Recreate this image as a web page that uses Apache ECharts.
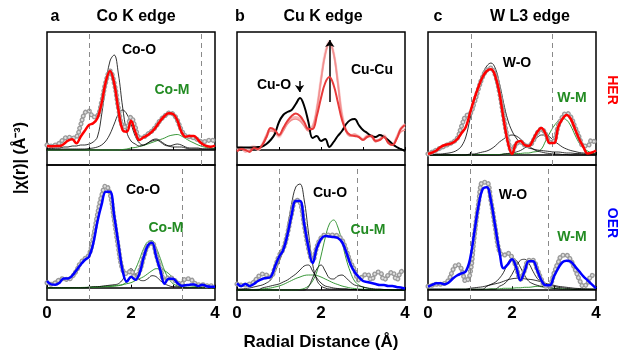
<!DOCTYPE html>
<html>
<head>
<meta charset="utf-8">
<script src="https://cdn.jsdelivr.net/npm/echarts@6/dist/echarts.min.js"></script>
<style>html,body{margin:0;padding:0;background:#fff}#chart{width:621px;height:352px}</style>
</head>
<body>
<div id="chart"></div>
<script>
// radial distance grid (Å)
var R = [0,0.1,0.2,0.3,0.4,0.5,0.6,0.7,0.8,0.9,1.0,1.1,1.2,1.3,1.4,1.5,1.6,1.7,1.8,1.9,2.0,
         2.1,2.2,2.3,2.4,2.5,2.6,2.7,2.8,2.9,3.0,3.1,3.2,3.3,3.4,3.5,3.6,3.7,3.8,3.9,4.0];

// a - Co K edge, HER
var coHerData = [0.5,0.4,0.5,0.7,1.1,1.3,1.2,1.3,2.5,3.7,3.9,3.3,3.4,4.8,6.8,7.9,6.7,4.2,2.4,2.3,3.3,2.3,1.2,1.3,1.6,1.9,2.4,3.0,3.4,3.7,3.6,3.0,2.0,1.4,1.3,1.2,1.0,0.8,0.9,1.0,0.9];
var coHerFit = [0.4,0.37,0.4,0.4,0.6,0.93,1.07,0.67,1.33,1.93,2.5,2.67,3.17,4.67,6.83,7.9,6.67,4.0,2.0,1.83,2.93,1.83,1.0,1.27,1.5,1.83,2.33,2.93,3.4,3.67,3.6,3.0,1.83,1.33,1.4,1.4,1.0,0.6,0.4,0.33,0.43];
var coHerO = [0.15,0.15,0.2,0.2,0.3,0.3,0.4,0.4,0.5,0.5,0.6,0.8,1.3,3.5,6.5,8.9,9.5,7.6,4.3,1.8,0.9,0.6,0.4,0.5,0.7,0.9,1.0,0.8,0.5,0.4,0.5,0.6,0.5,0.3,0.2,0.2,0.2,0.1,0.1,0.1,0.1];
var coHerO2 = [0.1,0.1,0.1,0.1,0.1,0.1,0.1,0.1,0.1,0.1,0.15,0.2,0.3,0.5,0.9,1.6,2.6,3.6,4.0,3.6,2.6,1.4,0.7,0.5,0.7,1.0,1.1,0.9,0.6,0.4,0.3,0.3,0.3,0.2,0.1,0.1,0.1,0.1,0.1,0.1,0.1];
var coHerM = [0,0,0,0,0,0,0,0,0,0,0,0,0,0,0,0,0,0,0.05,0.1,0.2,0.25,0.35,0.45,0.6,0.75,0.9,1.05,1.2,1.4,1.5,1.55,1.4,1.15,0.9,0.7,0.5,0.35,0.25,0.2,0.15];

// b - Cu K edge, HER series
var cuBefore = [0.25,0.25,0.25,0.25,0.25,0.3,0.35,0.6,1.0,1.6,2.8,3.5,3.8,4.0,4.6,5.2,4.4,2.8,1.2,1.4,0.9,1.1,0.3,0.8,1.4,1.9,2.6,3.0,3.1,2.5,2.0,1.7,1.4,1.3,1.5,1.3,1.0,0.6,0.3,0.1,-0.1];
var cuHer1 = [-0.15,0.1,0.0,-0.2,0.2,0.1,0.5,1.3,2.2,2.0,1.5,2.2,2.9,3.4,3.65,3.4,2.8,2.1,2.1,3.4,5.2,6.7,7.3,6.5,4.8,3.0,1.9,1.5,1.4,1.3,1.0,1.3,1.4,0.9,1.0,1.3,0.7,0.5,1.1,2.1,2.5];
var cuHer2 = [0.1,0.3,-0.1,0.2,0.4,0.1,0.6,1.4,2.0,1.8,1.3,2.0,2.7,3.1,3.2,3.0,2.5,2.0,2.3,4.2,7.2,9.8,10.9,9.8,6.9,3.6,2.0,1.5,1.5,1.4,1.1,1.5,1.4,0.9,1.1,1.5,0.9,0.6,1.2,2.0,2.3];
var cuHer3 = [0.0,0.2,-0.2,0.1,0.3,0.0,0.5,1.5,2.1,1.7,1.4,2.1,2.8,3.2,3.3,3.1,2.6,2.1,2.4,4.0,6.9,9.5,10.6,9.6,6.8,3.5,1.9,1.4,1.6,1.3,1.0,1.4,1.5,1.0,1.0,1.4,0.8,0.5,1.3,2.2,2.6];
var cuHer4 = [-0.1,0.2,0.0,-0.1,0.3,0.2,0.4,1.2,1.9,1.9,1.4,1.9,2.6,3.0,3.1,2.9,2.4,1.9,2.2,4.1,7.0,9.6,10.7,9.7,6.7,3.4,1.8,1.4,1.5,1.3,1.1,1.4,1.3,0.8,1.1,1.4,0.8,0.5,1.1,1.8,2.0];

// c - W L3 edge, HER
var wHerData = [0.1,0.3,0.5,0.7,0.9,1.1,1.3,1.7,2.9,3.9,4.1,5.2,6.6,7.8,8.5,8.7,8.0,6.3,3.8,1.6,0.4,1.1,1.3,1.0,0.9,1.4,2.2,2.6,2.1,1.3,1.4,2.9,3.8,4.2,3.8,2.8,1.8,0.9,0.9,1.5,1.1];
var wHerFit = [0.1,0.25,0.45,0.8,1.0,1.1,1.25,1.6,2.2,2.8,4.2,5.6,6.8,7.8,8.4,8.57,7.9,6.2,3.6,1.3,0.1,1.2,1.4,1.0,0.9,1.5,2.3,2.7,2.1,1.2,1.2,2.8,3.6,4.0,3.6,2.6,1.6,0.8,0.15,0.25,0.45];
var wHerO = [0.05,0.05,0.1,0.1,0.15,0.2,0.3,0.5,0.9,1.8,3.6,5.3,6.9,8.1,8.9,9.2,8.7,7.2,5.2,3.5,2.4,1.7,1.2,0.9,0.7,0.6,0.5,0.45,0.4,0.35,0.3,0.3,0.25,0.2,0.2,0.15,0.15,0.1,0.1,0.1,0.1];
var wHerO2 = [0,0,0,0,0,0,0,0,0,0,0.1,0.1,0.2,0.3,0.4,0.6,0.9,1.3,1.6,1.9,2.0,1.9,1.6,1.2,0.9,0.6,0.4,0.3,0.2,0.15,0.1,0.1,0.05,0.05,0,0,0,0,0,0,0];
var wHerO3 = [0,0,0,0,0,0,0,0,0,0,0,0,0,0,0,0,0,0,0.1,0.15,0.2,0.3,0.45,0.7,1.0,1.4,1.75,2.0,2.0,1.8,1.4,1.1,0.8,0.6,0.45,0.35,0.25,0.2,0.15,0.1,0.1];
var wHerM = [0,0,0,0,0,0,0,0,0,0,0.02,0.03,0.05,0.05,0.05,0.05,0.05,0.05,0.1,0.1,0.1,0.15,0.15,0.2,0.2,0.3,0.35,0.6,1.4,2.2,2.9,3.4,3.65,3.5,2.9,2.0,1.2,0.7,0.4,0.2,0.1];

// a - Co K edge, OER
var coOerData = [0.5,0.35,0.5,0.8,0.9,0.8,1.1,1.7,2.5,2.9,3.3,5.0,7.3,9.2,10.2,9.4,6.8,4.0,1.8,1.4,1.7,0.9,1.6,3.0,4.2,4.5,3.3,1.9,0.7,1.0,0.9,0.5,0.4,0.9,0.9,0.5,0.3,0.3,0.2,0.2,0.2];
var coOerFit = [0.67,0.33,0.3,0.5,0.93,0.93,1.2,1.75,2.3,2.77,3.1,4.4,6.6,8.3,9.6,9.6,7.2,4.4,1.7,0.6,1.1,0.8,1.4,3.0,4.2,4.5,3.1,1.7,0.4,0.9,0.9,0.5,0.2,0.25,0.3,0.33,0.17,0.3,0.15,0.1,0.1];
var coOerO = [0,0,0,0,0,0,0,0,0,0,0.05,0.1,0.1,0.15,0.2,0.25,0.3,0.4,0.8,1.5,1.9,1.4,0.8,0.7,0.9,1.2,1.1,0.7,0.4,0.2,0.1,0.1,0.05,0,0,0,0,0,0,0,0];
var coOerM1 = [0,0,0,0,0,0,0,0,0,0,0.02,0.03,0.05,0.08,0.1,0.12,0.15,0.2,0.3,0.6,1.0,1.8,2.8,3.9,4.6,4.7,4.0,2.9,1.7,0.9,0.4,0.2,0.1,0.05,0.03,0.02,0,0,0,0,0];
var coOerM2 = [0,0,0,0,0,0,0,0,0.02,0.03,0.05,0.07,0.1,0.12,0.15,0.18,0.2,0.25,0.3,0.4,0.5,0.7,0.9,1.1,1.4,1.7,1.9,1.9,1.7,1.4,1.0,0.7,0.45,0.3,0.2,0.15,0.1,0.08,0.05,0.03,0.02];

// b - Cu K edge, OER
var cuOerData = [0.6,0.5,0.5,0.6,0.8,1.3,1.6,1.5,1.3,2.2,3.4,4.1,5.6,7.6,9.0,8.8,6.5,4.2,2.9,4.3,5.2,5.5,5.5,5.5,5.4,5.0,4.0,2.8,2.0,1.0,1.4,1.6,1.0,1.7,1.8,1.0,1.5,1.8,1.0,1.8,2.0];
var cuOerFit = [0.67,0.4,0.6,0.4,0.6,0.9,1.1,1.2,1.3,2.3,3.3,4.0,5.5,7.5,8.9,8.9,6.6,4.3,2.7,4.2,5.1,5.4,5.35,5.3,5.2,4.8,3.8,2.6,1.8,1.3,0.9,0.8,0.7,0.6,0.5,0.5,0.4,0.4,0.3,0.25,0.15];
var cuOerO = [0.1,0.1,0.15,0.2,0.3,0.4,0.5,0.7,1.0,1.8,2.8,4.0,6.2,8.6,10.3,10.6,9.0,5.8,2.6,1.0,0.4,0.2,0.1,0.1,0.1,0.1,0.1,0.05,0.05,0.05,0,0,0,0,0,0,0,0,0,0,0];
var cuOerO2 = [0,0,0,0,0,0,0.2,0.3,0.4,0.5,0.6,0.8,1.0,1.3,1.6,2.0,2.4,2.5,1.9,1.2,0.7,0.4,0.3,0.2,0.15,0.1,0.1,0.05,0.05,0,0,0,0,0,0,0,0,0,0,0,0];
var cuOerO3 = [0,0,0,0,0,0,0,0,0,0,0,0,0,0,0,0,0,0.3,1.2,2.1,2.5,1.9,1.2,1.1,1.4,1.5,1.2,0.8,0.5,0.4,0.3,0.2,0.15,0.1,0.1,0.05,0.05,0,0,0,0];
var cuOerM1 = [0,0,0,0,0,0,0,0,0,0,0,0,0,0,0,0.05,0.15,0.4,0.9,1.8,3.4,5.2,6.6,7.0,6.3,4.8,3.1,1.8,0.9,0.5,0.3,0.2,0.1,0.05,0,0,0,0,0,0,0];
var cuOerM2 = [0,0,0.02,0.03,0.05,0.07,0.1,0.15,0.2,0.3,0.4,0.55,0.75,0.95,1.15,1.3,1.45,1.5,1.5,1.45,1.3,1.1,0.9,0.7,0.55,0.4,0.3,0.2,0.15,0.1,0.08,0.05,0.03,0.02,0,0,0,0,0,0,0];

// c - W L3 edge, OER
var wOerData = [0.3,0.4,0.5,0.5,0.6,1.0,2.0,2.5,2.0,0.8,1.5,5.2,8.5,10.7,10.7,8.8,6.2,3.8,3.4,3.6,3.2,2.2,1.0,1.9,2.9,2.9,2.0,1.0,0.3,0.4,1.6,2.7,3.4,3.4,2.9,2.0,1.0,0.3,0.6,1.4,1.2];
var wOerFit = [0.27,0.45,0.6,0.6,0.5,0.7,1.1,1.4,1.6,1.8,3.0,5.6,8.3,10.0,10.2,8.8,6.3,3.8,2.1,2.5,3.0,2.2,0.9,1.8,2.8,2.8,1.9,0.9,0.4,0.4,1.3,2.1,2.7,2.85,2.75,2.3,1.8,1.3,0.9,0.5,0.1];
var wOerO2 = [0,0,0,0,0,0,0,0,0,0,0,0,0,0,0.3,0.5,0.7,1.1,1.7,2.6,3.1,2.9,2.2,1.4,0.8,0.55,0.4,0.3,0.2,0.15,0.1,0.05,0,0,0,0,0,0,0,0,0];
var wOerO3 = [0,0,0,0,0,0,0,0,0,0,0,0,0,0,0,0,0,0.3,0.5,0.9,1.5,2.3,2.9,3.0,2.6,1.8,1.1,0.7,0.5,0.4,0.3,0.2,0.15,0.1,0.05,0,0,0,0,0,0];
var wOerO4 = [0,0,0,0,0,0,0,0,0,0,0.1,0.15,0.2,0.25,0.35,0.45,0.55,0.65,0.8,0.95,1.05,1.1,1.1,1.05,1.0,0.95,0.85,0.75,0.6,0.5,0.4,0.3,0.25,0.2,0.15,0.1,0.08,0.05,0.03,0.02,0];
var wOerM = [0,0,0,0,0,0,0,0,0,0,0,0,0,0,0,0.05,0.05,0.05,0.1,0.1,0.1,0.15,0.15,0.2,0.2,0.25,0.3,0.25,0.2,0.15,0.1,0.1,0.05,0.05,0,0,0,0,0,0,0];

// fitting-window dashed lines per panel (aTop, bTop, cTop, aBot, bBot, cBot)
var windows = [[1.0, 3.68], [], [1.02, 2.97], [1.0, 3.23], [1.0, 2.87], [1.0, 2.86]];
var tickLabels = ['0', '2', '4'];

var FONT = 'Liberation Sans, Arial, sans-serif';
var RED = '#ff0000', BLUE = '#0000ff', GREEN = '#228b22';
var panelLeft = [47, 237, 428];
var yMin = [-1.5, -1.5, -1.0, -1.23, -1.0, -1.07];
var yMax = [11.8, 11.8, 12.3, 12.27, 12.5, 12.43];

function pts(ys) {
  return R.map(function (x, i) { return [x, ys[i]]; });
}

function line(p, ys, color, width, z) {
  return {
    type: 'line', xAxisIndex: p, yAxisIndex: p, data: pts(ys),
    showSymbol: false, smooth: 0.4, silent: true, z: z || 2,
    lineStyle: { color: color, width: width }
  };
}

// measured data: drawn as a row of small open grey circles (outer ring + light core)
function dots(p, ys) {
  return [
    { type: 'line', xAxisIndex: p, yAxisIndex: p, data: pts(ys), showSymbol: false, smooth: 0.4, silent: true, z: 3,
      lineStyle: { color: '#9a9a9a', width: 5, type: [0.01, 4.2], cap: 'round' } },
    { type: 'line', xAxisIndex: p, yAxisIndex: p, data: pts(ys), showSymbol: false, smooth: 0.4, silent: true, z: 3,
      lineStyle: { color: '#dedede', width: 2.4, type: [0.01, 4.2], cap: 'round' } }
  ];
}

function windowLines(p) {
  return {
    type: 'line', xAxisIndex: p, yAxisIndex: p, data: [], silent: true,
    markLine: {
      silent: true, symbol: 'none', label: { show: false },
      lineStyle: { type: [5, 4], color: '#8a8a8a', width: 1 },
      data: windows[p].map(function (v) { return { xAxis: v }; })
    }
  };
}

var grids = [], xAxes = [], yAxes = [];
for (var p = 0; p < 6; p++) {
  var isTop = p < 3;
  grids.push({
    left: panelLeft[p % 3], top: isTop ? 32 : 165, width: 168, height: isTop ? 133 : 135,
    show: true, borderColor: '#000', borderWidth: 1.5, backgroundColor: 'transparent'
  });
  xAxes.push({
    type: 'value', gridIndex: p, min: 0, max: 4, interval: 1,
    axisLine: { show: true, lineStyle: { color: '#000', width: 1.5 } },
    axisTick: { show: true, inside: true, length: 3, lineStyle: { color: '#000' } },
    splitLine: { show: false },
    axisLabel: {
      show: !isTop, margin: 5, color: '#000', fontFamily: FONT, fontWeight: 'bold', fontSize: 17,
      formatter: function (v) { return v % 2 === 0 ? tickLabels[v / 2] : ''; }
    }
  });
  yAxes.push({
    type: 'value', gridIndex: p, min: yMin[p], max: yMax[p], show: false, splitLine: { show: false }
  });
}

var series = [];
for (var q = 0; q < 6; q++) { if (windows[q].length) series.push(windowLines(q)); }

// a top
series.push(line(0, coHerM, GREEN, 0.9), line(0, coHerO2, '#000', 0.8), line(0, coHerO, '#000', 0.8));
series = series.concat(dots(0, coHerData));
series.push(line(0, coHerFit, RED, 2.5, 5));
// b top
var cuRed = line(1, cuHer1, '#e83a3a', 2, 6);
cuRed.markLine = {
  silent: true, symbol: ['none', 'arrow'], symbolSize: 7, label: { show: false },
  lineStyle: { type: 'solid', color: '#000', width: 1.5 },
  data: [
    [{ coord: [2.21, 4.8] }, { coord: [2.21, 11.0] }],
    [{ coord: [1.49, 6.9] }, { coord: [1.49, 5.8] }]
  ]
};
series.push(line(1, cuHer2, '#fbdcdc', 2.5, 3), line(1, cuHer3, '#f6b4b4', 2, 4), line(1, cuHer4, '#f29090', 1.5, 4),
  cuRed, line(1, cuBefore, '#000', 2, 5));
// c top
series.push(line(2, wHerM, GREEN, 0.9), line(2, wHerO2, '#000', 0.8), line(2, wHerO3, '#000', 0.8),
  line(2, wHerO, '#000', 0.8));
series = series.concat(dots(2, wHerData));
series.push(line(2, wHerFit, RED, 2.5, 5));
// a bottom
series.push(line(3, coOerM2, GREEN, 0.9), line(3, coOerM1, GREEN, 0.9), line(3, coOerO, '#000', 0.8));
series = series.concat(dots(3, coOerData));
series.push(line(3, coOerFit, BLUE, 2.5, 5));
// b bottom
series.push(line(4, cuOerM2, GREEN, 0.9), line(4, cuOerM1, GREEN, 0.9), line(4, cuOerO2, '#000', 0.8),
  line(4, cuOerO3, '#000', 0.8), line(4, cuOerO, '#000', 0.8));
series = series.concat(dots(4, cuOerData));
series.push(line(4, cuOerFit, BLUE, 2.5, 5));
// c bottom
series.push(line(5, wOerM, GREEN, 0.9), line(5, wOerO4, '#000', 0.8), line(5, wOerO2, '#000', 0.8),
  line(5, wOerO3, '#000', 0.8));
series = series.concat(dots(5, wOerData));
series.push(line(5, wOerFit, BLUE, 2.5, 5));

function txt(s, x, y, size, color, rot) {
  return {
    type: 'text', x: x, y: y, rotation: rot || 0, silent: true, z: 20,
    style: { text: s, fill: color || '#000', align: 'center', verticalAlign: 'middle',
      font: 'bold ' + size + 'px ' + FONT }
  };
}

var graphics = [
  txt('a', 55, 17, 16), txt('Co K edge', 136, 17, 16),
  txt('b', 240, 17, 16), txt('Cu K edge', 323, 17, 16),
  txt('c', 438, 17, 16), txt('W L3 edge', 530, 17, 16),
  txt('Co-O', 139, 50, 14), txt('Co-M', 172, 90, 14, GREEN),
  txt('Cu-O', 274, 85, 14), txt('Cu-Cu', 372, 70, 14),
  txt('W-O', 517, 63, 14), txt('W-M', 572, 98, 14, GREEN),
  txt('Co-O', 143, 190, 14), txt('Co-M', 166, 228, 14, GREEN),
  txt('Cu-O', 330, 193, 14), txt('Cu-M', 368, 230, 14, GREEN),
  txt('W-O', 513, 195, 14), txt('W-M', 572, 237, 14, GREEN),
  txt('HER', 612, 90, 14, RED, -Math.PI / 2),
  txt('OER', 612, 223, 14, BLUE, -Math.PI / 2),
  txt('|\u03c7(r)| (\u00c5\u207b\u00b3)', 21, 158, 16, '#000', Math.PI / 2),
  txt('Radial Distance (\u00c5)', 321, 342, 17)
];

var chart = echarts.init(document.getElementById('chart'));
chart.setOption({
  animation: false,
  backgroundColor: '#fff',
  grid: grids, xAxis: xAxes, yAxis: yAxes,
  series: series,
  graphic: graphics
});
</script>
</body>
</html>
